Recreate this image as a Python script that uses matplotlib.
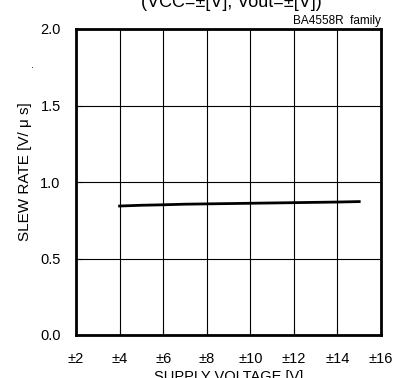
import matplotlib
matplotlib.use("Agg")
import matplotlib.pyplot as plt

supply_v = [4, 5, 6, 7, 8, 9, 10, 11, 12, 13, 14, 15]
slew_rate = [0.843, 0.848, 0.851, 0.855, 0.857, 0.859, 0.861, 0.863, 0.865, 0.867, 0.869, 0.872]
xticks = [2, 4, 6, 8, 10, 12, 14, 16]
xticklabels = ["±2", "±4", "±6", "±8", "±10", "±12", "±14", "±16"]
yticks = [0.0, 0.5, 1.0, 1.5, 2.0]

plt.rcParams['font.family'] = ['Liberation Sans', 'DejaVu Sans']
fig = plt.figure(figsize=(4.04, 3.78), dpi=100)
ax = fig.add_axes([76/404, 1-335/378, (381-76)/404, (335-29)/378])
ax.plot(supply_v, slew_rate, color='black', lw=2)
ax.set_xlim(2, 16)
ax.set_ylim(0, 2)
ax.set_xticks(xticks)
ax.set_xticklabels(xticklabels, fontsize=10.5)
ax.set_yticks(yticks)
ax.set_yticklabels([f"{v:.1f}" for v in yticks], fontsize=10.5)
ax.grid(True, color='black', lw=0.8)
ax.tick_params(direction='in', length=4, width=0.8)
ax.tick_params(axis='x', pad=12)
ax.tick_params(axis='y', pad=11)
for s in ax.spines.values():
    s.set_linewidth(2)
ax.set_xlabel("SUPPLY VOLTAGE [V]", fontsize=10.5, labelpad=3)
ax.set_ylabel("SLEW RATE [V/ μ s]", fontsize=11)
ax.yaxis.set_label_coords(-(76 - 32) / 305, (335 - 172) / 306)
ax.text(1.0, 1.005, "BA4558R  family", transform=ax.transAxes, ha='right', va='bottom', fontsize=8.5)
fig.text(231/404, 1.0 - 7/378, "(VCC=±[V], Vout=±[V])", ha='center', va='baseline', fontsize=13)
fig.text(32/404, 1 - 68/378, ".", fontsize=8, ha='center')
fig.savefig("out.png", dpi=100)
